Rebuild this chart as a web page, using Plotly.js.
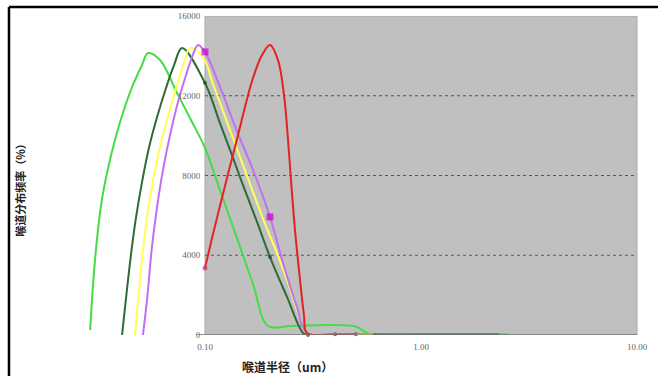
<!DOCTYPE html>
<html>
<head>
<meta charset="utf-8">
<script src="https://cdn.plot.ly/plotly-3.0.1.min.js"></script>
<style>
html,body{margin:0;padding:0;background:#fff;}
#chart{width:658px;height:376px;}
</style>
</head>
<body>
<div id="chart"></div>
<script>
// ---- data ----
const lightGreenX = [0.0294,0.0303,0.0316,0.0333,0.0356,0.0383,0.0417,0.0464,0.0511,0.0545,0.0619,0.0742,0.0852,0.1,0.1173,0.1348,0.1668,0.1957,0.2475,0.38,0.5,0.58,1.0,1.7,2.53];
const lightGreenY = [250,2510,4770,6770,8380,9780,11140,12540,13540,14140,13790,12140,10880,9380,7270,5420,2560,450,450,500,420,50,40,40,40];

const darkGreenX = [0.0413,0.0431,0.0454,0.0479,0.0511,0.055,0.06,0.066,0.0719,0.0783,0.1,0.1173,0.1348,0.1499,0.1741,0.2,0.2397,0.2842,0.3,0.4,0.5,0.8,2.3];
const darkGreenY = [0,1860,4010,5870,7670,9380,10930,12390,13540,14400,12640,10630,8880,7520,5670,3910,1910,100,0,40,40,30,30];

const yellowX = [0.0474,0.049,0.0516,0.0545,0.0581,0.0625,0.0681,0.0742,0.0799,0.0852,0.0979,0.1089,0.1264,0.1452,0.1668,0.1896,0.2109,0.2397,0.2754,0.2967,0.4,0.6];
const yellowY = [0,1760,4260,6270,8030,9630,11140,12540,13640,14400,13940,12590,10680,8930,7170,5570,4360,2760,850,100,20,20];

const violetX = [0.0516,0.0539,0.0568,0.06,0.0639,0.0689,0.075,0.0817,0.0871,0.0928,0.1,0.1173,0.1406,0.1668,0.2,0.2297,0.2666,0.2967,0.4,0.5];
const violetY = [0,1760,4410,6420,8280,10030,11690,13040,13940,14550,14200,12440,10230,8280,5920,3610,1400,100,20,20];

const redX = [0.1,0.1078,0.1173,0.1278,0.1392,0.1532,0.1668,0.1836,0.2,0.2178,0.2321,0.2423,0.2501,0.261,0.2754,0.2872,0.2967,0.4,0.5];
const redY = [3360,4870,6470,8080,9630,11440,12890,14040,14550,13790,12040,9780,7770,5270,2760,1000,100,20,20];

const xTickVals = [0.1, 1, 10];
const xTickText = ['0.10', '1.00', '10.00'];
const yTickVals = [0, 4000, 8000, 12000, 16000];
const gridVals = [4000, 8000, 12000];

// ---- layout geometry ----
const xLogMin = -1.5787, xLogMax = 1;
const frac = v => (Math.log10(v) - xLogMin) / (xLogMax - xLogMin);
const plotLeft = frac(0.1);

function mk(x, y, color, width, markAt, mSize, mColor, mSymbol) {
  return {
    x: x, y: y, type: 'scatter', mode: 'lines+markers',
    line: {color: color, width: width, shape: 'spline', smoothing: 1},
    marker: {
      size: x.map(v => markAt.includes(v) ? mSize : 0),
      color: mColor, symbol: mSymbol, line: {width: 0}
    },
    hoverinfo: 'x+y', showlegend: false, cliponaxis: false
  };
}

const traces = [
  mk(lightGreenX, lightGreenY, '#44dd44', 2, [], 0, '#44dd44', 'circle'),
  mk(darkGreenX, darkGreenY, '#2e6b34', 2, [0.1,0.2,0.3,0.4,0.5], 4, '#1e4a22', 'circle'),
  mk(yellowX, yellowY, '#ffff55', 2, [], 0, '#ffff55', 'circle'),
  mk(violetX, violetY, '#c070f0', 2, [0.1,0.2], 7, '#cc00cc', 'square'),
  mk(redX, redY, '#e02424', 2, [0.1], 5, '#cc3366', 'circle')
];

const shapes = [
  {type:'rect', xref:'paper', yref:'y', x0:plotLeft, x1:1, y0:0, y1:16000,
   fillcolor:'#c0c0c0', line:{color:'#a8a8a8', width:1}, layer:'below'}
];
gridVals.forEach(g => shapes.push({
  type:'line', xref:'paper', yref:'y', x0:plotLeft, x1:1, y0:g, y1:g,
  line:{color:'#555555', width:1, dash:'3px,3px'}, layer:'below'
}));
shapes.push({type:'line', xref:'paper', yref:'y', x0:plotLeft-0.015, x1:1, y0:0, y1:0,
  line:{color:'#777777', width:1.5}, layer:'above'});
// outer frame (top and left)
shapes.push({type:'line', xref:'paper', yref:'paper', x0:-0.1275, x1:1.04, y0:1.0282, y1:1.0282,
  line:{color:'#000', width:2.5}});
shapes.push({type:'line', xref:'paper', yref:'paper', x0:-0.1275, x1:-0.1275, y0:1.0282, y1:-0.14,
  line:{color:'#000', width:2.5}});

const layout = {
  width: 658, height: 376,
  margin: {l: 80, r: 21, t: 16, b: 41, pad: 0},
  paper_bgcolor: '#ffffff', plot_bgcolor: 'rgba(0,0,0,0)',
  showlegend: false,
  xaxis: {
    type: 'log', range: [xLogMin, xLogMax], domain: [0, 1],
    tickvals: xTickVals, ticktext: xTickText,
    ticks: 'outside', ticklen: 3, tickcolor: 'rgba(0,0,0,0)',
    showgrid: false, zeroline: false, showline: false,
    tickfont: {family: 'Liberation Serif', size: 9, color: '#666'}
  },
  yaxis: {
    range: [0, 16000], anchor: 'free', position: plotLeft,
    tickvals: yTickVals, tickformat: 'd',
    ticks: 'outside', ticklen: 3, tickcolor: 'rgba(0,0,0,0)',
    showgrid: false, zeroline: false, showline: false,
    tickfont: {family: 'Liberation Serif', size: 9, color: '#666'}
  },
  shapes: shapes,
  annotations: [
    {text: '<b>喉道分布频率（%）</b>', xref: 'paper', yref: 'paper', x: -0.108, y: 0.464,
     textangle: -90, showarrow: false, xanchor: 'center', yanchor: 'middle',
     font: {family: 'Noto Sans CJK SC', size: 11, color: '#222'}},
    {text: '<b>喉道半径（um）</b>', xref: 'paper', yref: 'paper', x: 0.3734, y: -0.100,
     showarrow: false, xanchor: 'center', yanchor: 'middle',
     font: {family: 'Noto Sans CJK SC', size: 12, color: '#222'}}
  ]
};

Plotly.newPlot('chart', traces, layout, {displayModeBar: false, staticPlot: true});
</script>
</body>
</html>
